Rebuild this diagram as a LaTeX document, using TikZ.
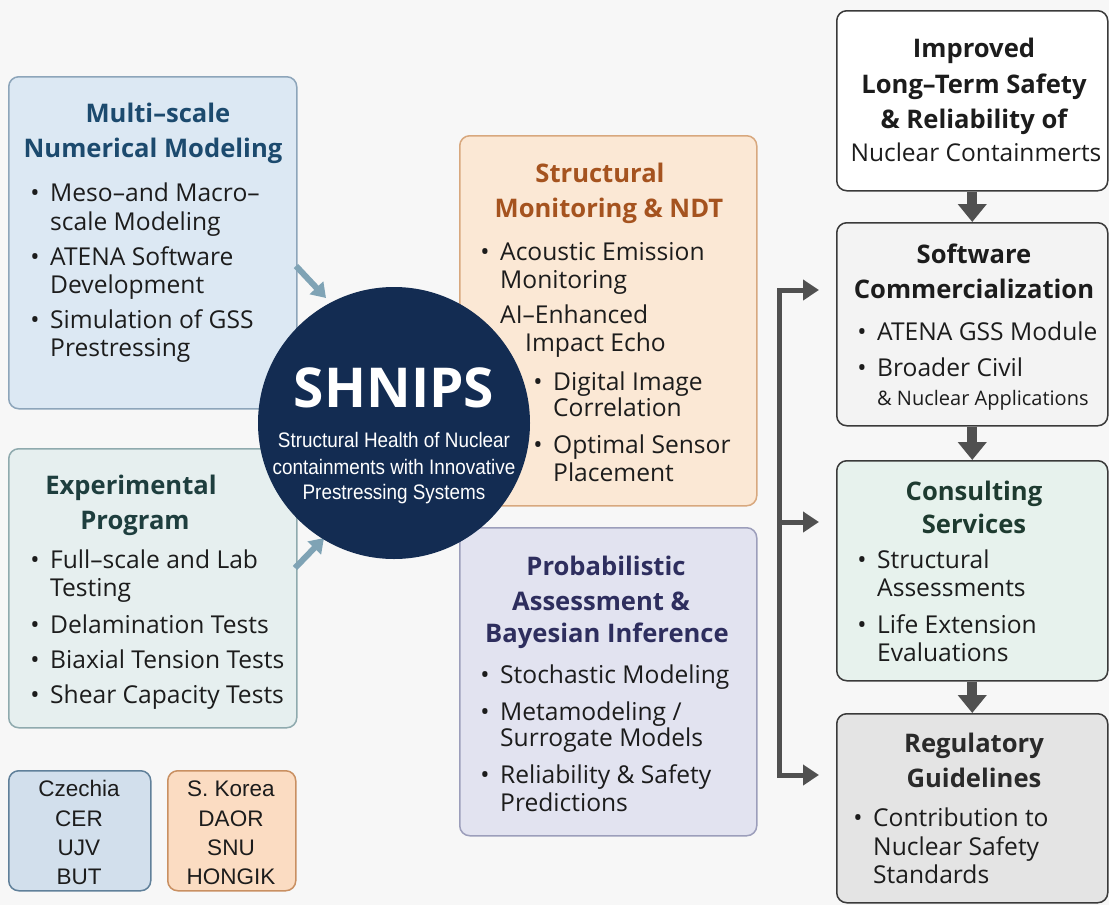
\documentclass[tikz,border=0pt]{standalone}
\usepackage{fontspec}
\setmainfont{Open Sans}
\newfontfamily\arialf{Liberation Sans}
\newfontfamily\narrowf[FakeStretch=0.9]{Liberation Sans}
\usetikzlibrary{arrows.meta,calc}
\definecolor{bg}{HTML}{F7F7F7}
\definecolor{msfill}{HTML}{DCE8F3}\definecolor{msdraw}{HTML}{8DA5BA}\definecolor{msh}{HTML}{1C4A6E}
\definecolor{exfill}{HTML}{E6EFEF}\definecolor{exdraw}{HTML}{8FAAAE}\definecolor{exh}{HTML}{1E3E3E}
\definecolor{smfill}{HTML}{FBE8D5}\definecolor{smdraw}{HTML}{D8A87E}\definecolor{smh}{HTML}{A5531F}
\definecolor{pafill}{HTML}{E2E3F0}\definecolor{padraw}{HTML}{9C9EBB}\definecolor{pah}{HTML}{2E2E5E}
\definecolor{navy}{HTML}{132C52}
\definecolor{arrowb}{HTML}{7FA3B5}
\definecolor{dgray}{HTML}{505050}
\definecolor{rdraw}{HTML}{3A3A3A}
\definecolor{swfill}{HTML}{F3F3F3}
\definecolor{csfill}{HTML}{E7F2ED}\definecolor{csh}{HTML}{1E3B30}
\definecolor{rgfill}{HTML}{E4E4E4}\definecolor{rgh}{HTML}{2A2A2A}
\definecolor{czfill}{HTML}{D2DFEC}\definecolor{czdraw}{HTML}{60809A}
\definecolor{krfill}{HTML}{FBDCC2}\definecolor{krdraw}{HTML}{C99062}
\definecolor{bodyc}{HTML}{1C1C1C}
\newcounter{tn}
\newcommand\tx[4][]{\stepcounter{tn}\node[txt,#1] (t\arabic{tn}) at (#2,#3) {#4};}
\newcommand\hd[4][]{\tx[hdf,anchor=base,#1]{#2}{#3}{#4}}
\newcommand\bl[3]{\tx[anchor=base]{{#1-15}}{#2}{\textbullet}\tx[anchor=base west]{#1}{#2}{#3}}
\newcommand\pl[4][]{\tx[anchor=base west,#1]{#2}{#3}{#4}}
\begin{document}
\begin{tikzpicture}[x=1pt,y=-1pt,
  txt/.style={inner sep=0pt, text=bodyc, font=\fontsize{24.6}{28}\selectfont},
  hdf/.style={font=\bfseries\fontsize{25.6}{30}\selectfont},
  ptxt/.style={anchor=base, font=\arialf\fontsize{22.5}{26}\selectfont},
  box/.style={rounded corners=10pt, line width=1.5pt, inner sep=0pt, anchor=north west},
  larrow/.style={line width=6pt, draw=arrowb, -{Triangle[width=18pt,length=14pt]}},
  darrow/.style={line width=10pt, draw=dgray, -{Triangle[width=28pt,length=18pt]}},
  bline/.style={line width=5pt, draw=dgray, -{Triangle[width=20pt,length=16pt]}, shorten >=17pt}]
\fill[bg] (0,0) rectangle (1109,905);
\useasboundingbox (0,0) rectangle (1109,905);
% boxes
\node[box, fill=msfill, draw=msdraw, minimum width=288pt, minimum height=332pt] (ms) at (8,76) {};
\node[box, fill=exfill, draw=exdraw, minimum width=288pt, minimum height=279pt] (ex) at (8,448) {};
\node[box, fill=smfill, draw=smdraw, minimum width=297pt, minimum height=370pt] (sm) at (459,135) {};
\node[box, fill=pafill, draw=padraw, minimum width=297pt, minimum height=308pt] (pa) at (459,527) {};
\node[box, fill=white, draw=rdraw, minimum width=271pt, minimum height=180pt] (im) at (836,10) {};
\node[box, fill=swfill, draw=rdraw, minimum width=271pt, minimum height=203pt] (sw) at (836,222) {};
\node[box, fill=csfill, draw=rdraw, minimum width=271pt, minimum height=220pt] (cs) at (836,460) {};
\node[box, fill=rgfill, draw=rdraw, minimum width=271pt, minimum height=189pt] (rg) at (836,713) {};
\node[box, fill=czfill, draw=czdraw, minimum width=142pt, minimum height=120pt] (cz) at (8,770) {};
\node[box, fill=krfill, draw=krdraw, minimum width=128pt, minimum height=120pt] (kr) at (167,770) {};
% arrows to centre
\coordinate (a1s) at (296,266); \coordinate (a1e) at (326,298);
\coordinate (a2s) at (295,568); \coordinate (a2e) at (324,538);
\draw[larrow] (a1s) -- (a1e);
\draw[larrow] (a2s) -- (a2e);
% centre circle
\node[circle, fill=navy, minimum size=272pt, inner sep=0pt] (sh) at (394,423) {};
\node[anchor=base, inner sep=0pt, text=white, font=\bfseries\fontsize{55}{60}\selectfont] (shn) at (394,407) {SHNIPS};
\node[anchor=base, inner sep=0pt, text=white, font=\narrowf\fontsize{21}{24}\selectfont] (sh1) at (394,447) {Structural Health of Nuclear};
\node[anchor=base, inner sep=0pt, text=white, font=\narrowf\fontsize{21}{24}\selectfont] (sh2) at (394,474) {containments with Innovative};
\node[anchor=base, inner sep=0pt, text=white, font=\narrowf\fontsize{21}{24}\selectfont] (sh3) at (394,499) {Prestressing Systems};
% right column arrows
\draw[darrow] (im.south) -- (sw.north);
\draw[darrow] (sw.south) -- (cs.north);
\draw[darrow] (cs.south) -- (rg.north);
\coordinate (bt) at (779,290); \coordinate (bm) at (779,522); \coordinate (bb) at (779,775);
\draw[bline] (bb) -- (bt) -- (bt -| sw.west);
\draw[bline] (bt) -- (bb) -- (bb -| rg.west);
\draw[bline] (bm) -- (bm -| cs.west);
% Multi-scale
\hd[text=msh]{158}{122}{Multi–scale}
\hd[text=msh]{153}{157}{Numerical Modeling}
\bl{50}{201}{Meso–and Macro–}
\pl{50}{230}{scale Modeling}
\bl{50}{265}{ATENA Software}
\pl{50}{293}{Development}
\bl{50}{328}{Simulation of GSS}
\pl{50}{356}{Prestressing}
% Experimental
\hd[text=exh]{131}{494}{Experimental}
\hd[text=exh]{135}{529}{Program}
\bl{50}{568}{Full–scale and Lab}
\pl{50}{596}{Testing}
\bl{50}{633}{Delamination Tests}
\bl{50}{668}{Biaxial Tension Tests}
\bl{50}{703}{Shear Capacity Tests}
% Structural Monitoring
\hd[text=smh]{600}{182}{Structural}
\hd[text=smh]{609}{217}{Monitoring \& NDT}
\bl{500}{260}{Acoustic Emission}
\pl{500}{288}{Monitoring}
\pl{500}{323}{AI–Enhanced}
\pl{525}{351}{Impact Echo}
\bl{553}{390}{Digital Image}
\pl{553}{416}{Correlation}
\bl{553}{453}{Optimal Sensor}
\pl{553}{481}{Placement}
% Probabilistic
\hd[text=pah]{606}{575}{Probabilistic}
\hd[text=pah]{601}{610}{Assessment \&}
\hd[text=pah]{607}{642}{Bayesian Inference}
\bl{500}{683}{Stochastic Modeling}
\bl{500}{720}{Metamodeling /}
\pl{500}{746}{Surrogate Models}
\bl{500}{783}{Reliability \& Safety}
\pl{500}{811}{Predictions}
% Improved
\hd{974}{57}{Improved}
\hd{974}{93}{Long–Term Safety}
\hd{974}{128}{\& Reliability of}
\tx[anchor=base,font=\fontsize{24.5}{28}\selectfont]{976}{161}{Nuclear Containmerts}
% Software
\hd{974}{263}{Software}
\hd{974}{298}{Commercialization}
\bl{877}{340}{ATENA GSS Module}
\bl{877}{376}{Broader Civil}
\pl[font=\fontsize{20}{24}\selectfont]{877}{405}{\& Nuclear Applications}
% Consulting
\hd[text=csh]{974}{500}{Consulting}
\hd[text=csh]{974}{533}{Services}
\bl{877}{568}{Structural}
\pl{877}{596}{Assessments}
\bl{877}{633}{Life Extension}
\pl{877}{661}{Evaluations}
% Regulatory
\hd[text=rgh]{974}{752}{Regulatory}
\hd[text=rgh]{974}{787}{Guidelines}
\bl{873}{826}{Contribution to}
\pl{873}{855}{Nuclear Safety}
\pl{873}{883}{Standards}
% partners
\tx[ptxt]{79}{796}{Czechia}
\tx[ptxt]{79}{826}{CER}
\tx[ptxt]{79}{855}{UJV}
\tx[ptxt]{79}{884}{BUT}
\tx[ptxt]{231}{796}{S. Korea}
\tx[ptxt]{231}{826}{DAOR}
\tx[ptxt]{231}{855}{SNU}
\tx[ptxt]{231}{884}{HONGIK}
\end{tikzpicture}
\end{document}
